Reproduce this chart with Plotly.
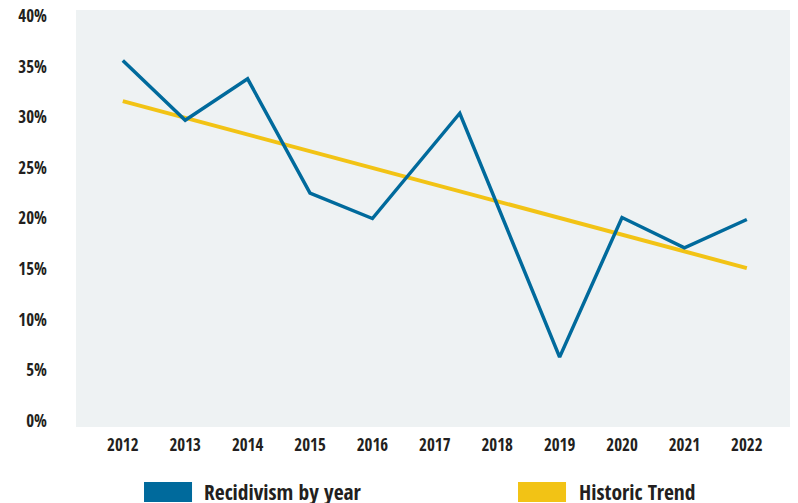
import plotly.graph_objects as go

years = [2012, 2013, 2014, 2015, 2016, 2017.4, 2019, 2020, 2021, 2022]
recidivism = [0.356, 0.297, 0.338, 0.225, 0.200, 0.304, 0.063, 0.201, 0.171, 0.199]
trend_years = [2012, 2022]
trend_values = [0.316, 0.151]
tick_years = [2012, 2013, 2014, 2015, 2016, 2017, 2018, 2019, 2020, 2021, 2022]
tick_labels = [str(y) for y in tick_years]
y_ticks = [0, 0.05, 0.10, 0.15, 0.20, 0.25, 0.30, 0.35, 0.40]

BLUE = "#006a9c"
YELLOW = "#f2c315"
TEXT = "#231f20"
FONT = "Open Sans Condensed, Roboto Condensed, sans-serif"

fig = go.Figure()
fig.add_trace(go.Scatter(x=trend_years, y=trend_values, mode="lines",
                         line=dict(color=YELLOW, width=4), name="Historic Trend",
                         showlegend=False))
fig.add_trace(go.Scatter(x=years, y=recidivism, mode="lines",
                         line=dict(color=BLUE, width=3.5), name="Recidivism by year",
                         showlegend=False))

fig.update_layout(
    width=790, height=495,
    margin=dict(l=68, r=0, t=2, b=76, autoexpand=False),
    paper_bgcolor="white",
    plot_bgcolor="#eef2f3",
    font=dict(family=FONT, color=TEXT, size=17),
    xaxis=dict(range=[2011.25, 2022.82], tickvals=tick_years, ticktext=tick_labels,
               showgrid=False, zeroline=False, showline=False, ticks="",
               tickfont=dict(size=17, family=FONT, weight="bold"),
               ticklabelstandoff=6, automargin=False),
    yaxis=dict(range=[-0.006, 0.406], tickvals=y_ticks, tickformat=".0%",
               showgrid=False, zeroline=False, showline=False, ticks="",
               tickfont=dict(size=17, family=FONT, weight="bold"),
               ticklabelstandoff=28, ticklabeloverflow="allow", automargin=False),
)

legend_items = [
    ("Recidivism by year", BLUE, 0.0942, 0.1607, 0.1745),
    ("Historic Trend", YELLOW, 0.6122, 0.6787, 0.6939),
]
for label, color, x0, x1, xt in legend_items:
    fig.add_shape(type="rect", xref="paper", yref="paper", x0=x0, x1=x1,
                  y0=-0.1799, y1=-0.1319, fillcolor=color, line=dict(width=0))
    fig.add_annotation(xref="paper", yref="paper", x=xt, y=-0.1545, text=label,
                       showarrow=False, xanchor="left", yanchor="middle",
                       font=dict(size=21.5, family=FONT, color=TEXT, weight="bold"))

fig.write_html("out.html")
